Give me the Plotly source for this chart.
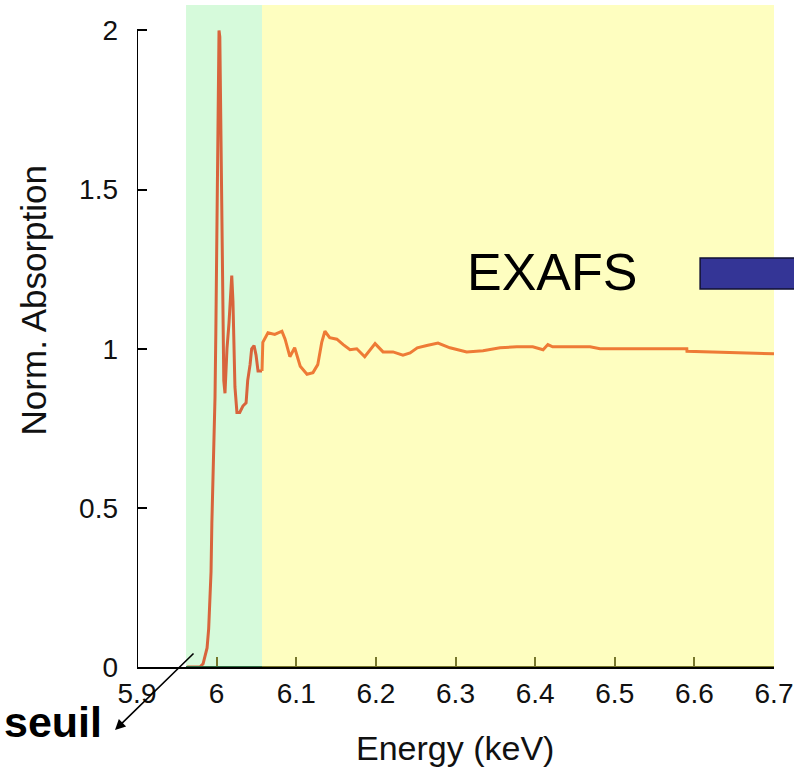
import numpy as np
import plotly.graph_objects as go

# Data (energy in keV, normalised absorption)
energy = [5.963, 5.979, 5.983, 5.985, 5.988, 5.990, 5.993, 5.994, 5.995, 5.997,
          5.998, 5.999, 6.0005, 6.002, 6.003, 6.004, 6.0055, 6.007, 6.008, 6.009,
          6.0105, 6.013, 6.0155, 6.018, 6.019, 6.0205, 6.023, 6.0255, 6.029, 6.033,
          6.037, 6.039, 6.042, 6.044, 6.047, 6.0495, 6.052, 6.0557, 6.057,
          6.058, 6.0645, 6.073, 6.082, 6.086, 6.092, 6.098, 6.105, 6.1135, 6.121,
          6.127, 6.132, 6.136, 6.142, 6.151, 6.159, 6.1675, 6.176, 6.186, 6.199,
          6.209, 6.2215, 6.234, 6.243, 6.252, 6.264, 6.278, 6.293, 6.314, 6.3345,
          6.356, 6.377, 6.397, 6.410, 6.416, 6.422, 6.469, 6.4815, 6.5905, 6.5907,
          6.620, 6.674, 6.700]
absorption = [0.0, 0.0, 0.01, 0.03, 0.06, 0.12, 0.30, 0.45, 0.55, 0.72,
              0.85, 1.05, 1.35, 1.80, 2.00, 1.98, 1.62, 1.30, 1.05, 0.90,
              0.86, 1.00, 1.08, 1.20, 1.23, 1.15, 0.88, 0.80, 0.80, 0.82,
              0.83, 0.90, 0.95, 1.00, 1.01, 0.98, 0.93, 0.93, 0.93,
              1.02, 1.05, 1.045, 1.055, 1.03, 0.975, 1.003, 0.945, 0.92, 0.925,
              0.95, 1.02, 1.055, 1.035, 1.03, 1.013, 0.997, 1.0, 0.975, 1.016,
              0.99, 0.99, 0.98, 0.987, 1.003, 1.01, 1.018, 1.003, 0.99, 0.994,
              1.003, 1.006, 1.006, 0.997, 1.013, 1.006, 1.006, 1.0, 1.0, 0.992,
              0.99, 0.986, 0.984]

x_ticks = [5.9, 6.0, 6.1, 6.2, 6.3, 6.4, 6.5, 6.6, 6.7]
x_ticklabels = ["5.9", "6", "6.1", "6.2", "6.3", "6.4", "6.5", "6.6", "6.7"]
y_ticks = [0, 0.5, 1, 1.5, 2]
y_ticklabels = ["0", "0.5", "1", "1.5", "2"]

edge_start = 5.9616   # start of the green (XANES) band
edge_end = 6.057      # start of the yellow (EXAFS) band

E = np.array(energy)
A = np.array(absorption)
m1 = E <= edge_end
m2 = E >= edge_end

FONT = "Liberation Sans, Arial, sans-serif"

fig = go.Figure()
fig.add_trace(go.Scatter(x=E[m1], y=A[m1], mode="lines",
                         line=dict(color="#d8643c", width=3),
                         showlegend=False, hoverinfo="skip"))
fig.add_trace(go.Scatter(x=E[m2], y=A[m2], mode="lines",
                         line=dict(color="#ee7b36", width=3),
                         showlegend=False, hoverinfo="skip"))

# background bands
fig.add_shape(type="rect", xref="x", yref="paper", x0=edge_start, x1=edge_end,
              y0=0, y1=1, fillcolor="#d6fadb", line_width=0, layer="below")
fig.add_shape(type="rect", xref="x", yref="paper", x0=edge_end, x1=6.7,
              y0=0, y1=1, fillcolor="#fefec0", line_width=0, layer="below")
# y axis line (only up to 2)
fig.add_shape(type="line", xref="x", yref="y", x0=5.9, x1=5.9, y0=0, y1=2,
              line=dict(color="black", width=2), layer="above")
# tinted x-axis segments
fig.add_shape(type="line", xref="x", yref="y", x0=edge_start, x1=edge_end, y0=0, y1=0,
              line=dict(color="#2f6a3e", width=2), layer="above")
fig.add_shape(type="line", xref="x", yref="y", x0=edge_end, x1=6.7, y0=0, y1=0,
              line=dict(color="#77772c", width=2), layer="above")
# blue bar next to EXAFS
fig.add_shape(type="rect", xref="paper", yref="paper", x0=0.884, x1=1.05,
              y0=0.571, y1=0.618, fillcolor="#343596",
              line=dict(color="#111133", width=1.5), layer="above")

annotations = [
    dict(text="EXAFS", xref="paper", yref="paper", x=0.652, y=0.597,
         showarrow=False, font=dict(family=FONT, size=52, color="#000000"),
         xanchor="center", yanchor="middle"),
    dict(text="<b>seuil</b>", xref="paper", yref="paper", x=-0.052, y=-0.083,
         showarrow=False, font=dict(family=FONT, size=43, color="#000000"),
         xanchor="right", yanchor="middle"),
    dict(text="", xref="paper", yref="paper", x=-0.0345, y=-0.0952,
         showarrow=True, ax=80, ay=-78, axref="pixel", ayref="pixel",
         arrowhead=2, arrowsize=1.3, arrowwidth=1.6, arrowcolor="black"),
    dict(text="Energy (keV)", xref="paper", yref="paper", x=0.499, y=-0.122,
         showarrow=False, font=dict(family=FONT, size=34, color="#111111"),
         xanchor="center", yanchor="middle"),
    dict(text="Norm. Absorption", xref="paper", yref="paper", x=-0.163, y=0.554,
         showarrow=False, textangle=-90, font=dict(family=FONT, size=35, color="#111111"),
         xanchor="center", yanchor="middle"),
]

fig.update_layout(
    width=794, height=781,
    margin=dict(l=137, r=20, t=5, b=114, autoexpand=False),
    paper_bgcolor="white", plot_bgcolor="white",
    font=dict(family=FONT, color="#111111"),
    annotations=annotations,
    xaxis=dict(range=[5.9, 6.7], tickvals=x_ticks, ticktext=x_ticklabels,
               showgrid=False, zeroline=False, showline=True, linecolor="black",
               linewidth=2, ticks="inside", ticklen=10, tickwidth=2,
               tickcolor="#77772c", tickfont=dict(size=28, color="#111111"),
               ticklabelstandoff=0, fixedrange=True, automargin=False),
    yaxis=dict(range=[0, 2.08], tickvals=y_ticks, ticktext=y_ticklabels,
               showgrid=False, zeroline=False, showline=False,
               ticks="inside", ticklen=10, tickwidth=2, tickcolor="black",
               tickfont=dict(size=28, color="#111111"),
               ticklabelstandoff=18, fixedrange=True, automargin=False),
)

fig.write_html("out.html", config={"displayModeBar": False},
               post_script="document.body.style.margin='0';")
